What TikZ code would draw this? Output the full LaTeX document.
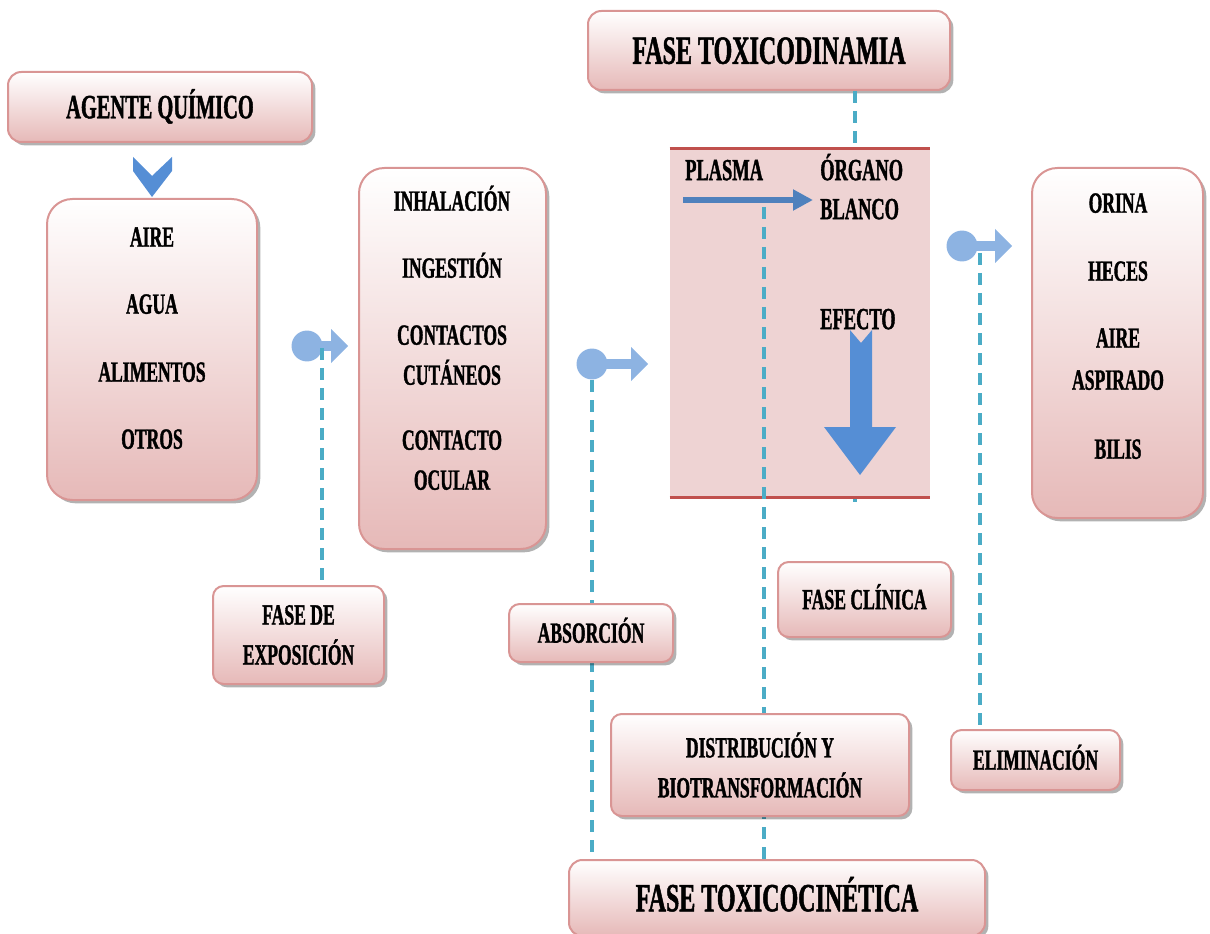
\documentclass[tikz,border=0pt]{standalone}
\usepackage{fontspec}
\setmainfont{Liberation Serif}[FakeStretch=0.6, FakeBold=1.2]
\usetikzlibrary{shadows,arrows.meta}
\definecolor{boxborder}{HTML}{D99594}
\definecolor{boxbot}{HTML}{E6B9B8}
\definecolor{rectfill}{HTML}{EED3D3}
\definecolor{rectline}{HTML}{C0504D}
\definecolor{capblue}{HTML}{8DB3E2}
\definecolor{dashcol}{HTML}{4BACC6}
\definecolor{arrblue}{HTML}{4F81BD}
\definecolor{bigblue}{HTML}{558ED5}
\newcommand\caparrow[3]{%
  \fill[capblue] (#1,#2) circle[radius=11.6pt];
  \fill[capblue] (#1,#2-5) rectangle (#3-17,#2+5);
  \fill[capblue] (#3-17,#2-17) -- (#3,#2) -- (#3-17,#2+17) -- cycle;
}
\tikzset{
  pbox/.style={draw=boxborder, line width=1.5pt, rounded corners=8pt,
    top color=white, bottom color=boxbot,
    drop shadow={shadow xshift=2.5pt, shadow yshift=-2.5pt, fill=black, opacity=0.3},
    inner sep=0pt, align=center, font=\bfseries\fontsize{22}{30}\selectfont},
  oneline/.style={text height=14.6pt, text depth=0pt},
  listbox/.style={pbox, rounded corners=19pt},
  titlebox/.style={pbox, rounded corners=10pt, font=\bfseries\fontsize{30}{34}\selectfont, text height=19.9pt, text depth=0pt},
  itemtxt/.style={inner sep=0pt, text height=14.6pt, text depth=0pt, font=\bfseries\fontsize{22}{30}\selectfont},
  dyntxt/.style={itemtxt, anchor=west, font=\bfseries\fontsize{23}{30}\selectfont, text height=15.2pt},
  dashline/.style={draw=dashcol, line width=2.4pt, dash pattern=on 9pt off 6pt},
}
\begin{document}
\begin{tikzpicture}[x=0.75pt, y=-0.75pt]
\useasboundingbox (0,0) rectangle (1210,934);

% circle-arrow markers
\caparrow{307}{346}{348}
\caparrow{592}{364}{648}
\caparrow{962}{246}{1012}

% chevron under agent
\fill[bigblue] (133,157) -- (152,176) -- (172,157) -- (172,171) -- (152,197) -- (133,171) -- cycle;

% named guide coordinates
\coordinate (d1) at (322,348);
\coordinate (d2) at (592,380);
\coordinate (d3) at (764,207);
\coordinate (d4) at (855,502);
\coordinate (d5) at (980,253);
\coordinate (pa) at (683,200);
\coordinate (pb) at (813,200);

% title boxes
\node[titlebox, minimum width=271.5pt, minimum height=59.25pt] (dina) at (769,50.5) {FASE TOXICODINAMIA};

% dashed guides behind
\draw[dashline] (d4 |- dina.south) -- (d4);

% toxicodynamic region
\node[fill=rectfill, minimum width=195pt, minimum height=261pt, inner sep=0pt] (dyn) at (800,323) {};
\draw[rectline, line width=2.2pt] (dyn.north west) -- (dyn.north east);
\draw[rectline, line width=2.2pt] (dyn.south west) -- (dyn.south east);

\node[titlebox, minimum width=312pt, minimum height=57pt] (cine) at (777,898) {FASE TOXICOCINÉTICA};

\node[pbox, minimum width=128.25pt, minimum height=73.5pt] (expo) at (298.5,635) {FASE DE\\EXPOSICIÓN};
\node[pbox, oneline, minimum width=126.75pt, minimum height=45pt] (elim) at (1035.5,760) {ELIMINACIÓN};

\draw[dashline] (d1) -- (d1 |- expo.north);
\draw[dashline] (d2) -- (d2 |- cine.north);
\draw[dashline] (d3) -- (d3 |- cine.north);
\draw[dashline] (d5) -- (d5 |- elim.north);

% inner texts of region
\node[dyntxt] (plasma) at (685,170) {PLASMA};
\node[dyntxt] (organo) at (820,170) {ÓRGANO};
\node[dyntxt] (blanco) at (820,209) {BLANCO};
\node[dyntxt] (efecto) at (820,319) {EFECTO};
\draw[arrblue, line width=5pt, -{Triangle[length=15pt,width=15pt]}] (pa) -- (pb);
\fill[bigblue] (850,330) -- (861,343) -- (872,330) -- (872,427) -- (896,427) -- (860,475) -- (824,427) -- (850,427) -- cycle;

% boxes
\node[titlebox, minimum width=228pt, minimum height=52.5pt, font=\bfseries\fontsize{25.5}{30}\selectfont, text height=16.9pt] (agente) at (160,107) {AGENTE QUÍMICO};

\node[listbox, minimum width=157.5pt, minimum height=225.75pt] (fuentes) at (152,349.5) {};
\node[itemtxt] (aire) at (152,237) {AIRE};
\node[itemtxt] (agua) at (152,304) {AGUA};
\node[itemtxt] (alimentos) at (152,372) {ALIMENTOS};
\node[itemtxt] (otros) at (152,439) {OTROS};

\node[listbox, minimum width=140.25pt, minimum height=285.75pt] (vias) at (452.5,358.5) {};
\node[itemtxt] (inhal) at (452,201) {INHALACIÓN};
\node[itemtxt] (inges) at (452,268) {INGESTIÓN};
\node[itemtxt] (cont1) at (452,335) {CONTACTOS};
\node[itemtxt] (cont2) at (452,375) {CUTÁNEOS};
\node[itemtxt] (ocul1) at (452,440) {CONTACTO};
\node[itemtxt] (ocul2) at (452,480) {OCULAR};

\node[listbox, minimum width=128.25pt, minimum height=262.5pt] (salidas) at (1117.5,343) {};
\node[itemtxt] (orina) at (1118,203) {ORINA};
\node[itemtxt] (heces) at (1118,271) {HECES};
\node[itemtxt] (aire2) at (1118,338) {AIRE};
\node[itemtxt] (aspir) at (1118,380) {ASPIRADO};
\node[itemtxt] (bilis) at (1118,449) {BILIS};

\node[pbox, oneline, minimum width=123pt, minimum height=43.5pt] (abso) at (591,633) {ABSORCIÓN};
\node[pbox, oneline, minimum width=129.75pt, minimum height=56.25pt] (clin) at (864.5,599.5) {FASE CLÍNICA};
\node[pbox, minimum width=223.5pt, minimum height=76.5pt] (dist) at (760,765) {DISTRIBUCIÓN Y\\BIOTRANSFORMACIÓN};

\end{tikzpicture}
\end{document}
